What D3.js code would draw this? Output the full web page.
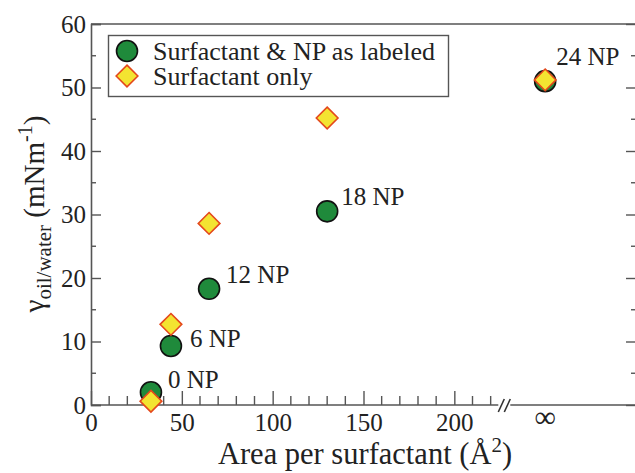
<!DOCTYPE html>
<html>
<head>
<meta charset="utf-8">
<script src="https://cdn.jsdelivr.net/npm/d3@7"></script>
<style>
  html, body { margin: 0; padding: 0; background: #fff; }
  svg { display: block; }
  svg text { font-family: "Liberation Serif", "DejaVu Serif", serif; fill: #222; }
</style>
</head>
<body>
<div id="chart"></div>
<script>
// ---------------- data ----------------
// x = area per surfactant (Å^2); Infinity = no surfactant limit (plotted at "∞")
const npLabels      = ["0 NP", "6 NP", "12 NP", "18 NP", "24 NP"];
const areaWithNP    = [33, 44, 65, 130, Infinity];
const gammaWithNP   = [2.0, 9.3, 18.3, 30.5, 51.0];
const areaSurfOnly  = [33, 44, 65, 130, Infinity];
const gammaSurfOnly = [0.6, 12.7, 28.6, 45.2, 51.2];
const xMajorTicks   = [0, 50, 100, 150, 200];
const yMajorTicks   = [0, 10, 20, 30, 40, 50, 60];
const legendLabels  = ["Surfactant & NP as labeled", "Surfactant only"];

// ---------------- layout ----------------
const W = 635, H = 473;
const FONT = '"Liberation Serif", "DejaVu Serif", serif';
const INF_POS = 250;      // axis value where "∞" is placed
const BREAK_POS = 227.5;  // axis value of the "//" break
const x = d3.scaleLinear().domain([0, 300]).range([91, 636]);
const y = d3.scaleLinear().domain([0, 60]).range([405, 24]);
const xp = v => x(v === Infinity ? INF_POS : v);

const svg = d3.select("#chart").append("svg").attr("width", W).attr("height", H)
  .attr("font-family", FONT);
const axisColor = "#555";
const green = "#1f8a3b", yellow = "#f3e431", orange = "#e4481c";

// frame: top and right lines
svg.append("line").attr("x1", x(0)).attr("x2", x(300)).attr("y1", y(60)).attr("y2", y(60))
  .attr("stroke", axisColor).attr("stroke-width", 1.6);
svg.append("line").attr("x1", x(300)).attr("x2", x(300)).attr("y1", y(0)).attr("y2", y(60))
  .attr("stroke", axisColor).attr("stroke-width", 1.6);

// left axis
const yMinor = d3.range(5, 60, 10);
const gy = svg.append("g").attr("transform", `translate(${x(0)},0)`)
  .call(d3.axisLeft(y).tickValues(yMajorTicks).tickSize(-10).tickPadding(5).tickFormat(d3.format("d")))
  .attr("font-family", FONT).attr("font-size", 25);
gy.select(".domain").attr("stroke", axisColor).attr("stroke-width", 1.6);
gy.selectAll(".tick line").attr("stroke", axisColor).attr("stroke-width", 1.4);
gy.selectAll(".tick text").attr("fill", "#222");
gy.selectAll(".minor").data(yMinor).enter().append("line")
  .attr("x1", 0).attr("x2", 5).attr("y1", d => y(d)).attr("y2", d => y(d))
  .attr("stroke", axisColor).attr("stroke-width", 1.4);

// right axis ticks (inward)
const gr = svg.append("g").attr("transform", `translate(${x(300)},0)`)
  .call(d3.axisRight(y).tickValues(yMajorTicks).tickSize(-10).tickFormat(""));
gr.select(".domain").remove();
gr.selectAll(".tick line").attr("stroke", axisColor).attr("stroke-width", 1.4);
gr.selectAll(".minor").data(yMinor).enter().append("line")
  .attr("x1", 0).attr("x2", -5).attr("y1", d => y(d)).attr("y2", d => y(d))
  .attr("stroke", axisColor).attr("stroke-width", 1.4);

// bottom axis
const gx = svg.append("g").attr("transform", `translate(0,${y(0)})`)
  .call(d3.axisBottom(x).tickValues(xMajorTicks).tickSize(-14).tickPadding(8).tickFormat(d3.format("d")))
  .attr("font-family", FONT).attr("font-size", 25);
gx.select(".domain").remove();
gx.selectAll(".tick line").attr("stroke", axisColor).attr("stroke-width", 1.4);
gx.selectAll(".tick text").attr("fill", "#222");
const xMinor = d3.range(10, 230, 10).filter(d => d % 50 !== 0);
gx.selectAll(".minor").data(xMinor).enter().append("line")
  .attr("x1", d => x(d)).attr("x2", d => x(d)).attr("y1", 0).attr("y2", -9)
  .attr("stroke", axisColor).attr("stroke-width", 1.4);
// axis baseline with a break
gx.append("line").attr("x1", x(0)).attr("x2", x(BREAK_POS) - 6).attr("y1", 0).attr("y2", 0)
  .attr("stroke", axisColor).attr("stroke-width", 1.6);
gx.append("line").attr("x1", x(BREAK_POS) + 6).attr("x2", x(300)).attr("y1", 0).attr("y2", 0)
  .attr("stroke", axisColor).attr("stroke-width", 1.6);
[-3, 3].forEach(o => {
  gx.append("line").attr("x1", x(BREAK_POS) + o - 3).attr("x2", x(BREAK_POS) + o + 3)
    .attr("y1", 7).attr("y2", -6).attr("stroke", "#333").attr("stroke-width", 1.6);
});
gx.append("text").attr("x", x(INF_POS)).attr("y", 22).attr("text-anchor", "middle")
  .attr("font-size", 30).text("∞");

// axis titles
const xt = svg.append("text").attr("x", 365).attr("y", 464).attr("text-anchor", "middle").attr("font-size", 30.5);
xt.append("tspan").text("Area per surfactant (Å");
xt.append("tspan").attr("dy", -12).attr("font-size", 21).text("2");
xt.append("tspan").attr("dy", 12).text(")");

const yt = svg.append("text").attr("transform", "translate(44,214) rotate(-90)")
  .attr("text-anchor", "middle").attr("font-size", 29);
yt.append("tspan").text("γ");
yt.append("tspan").attr("dy", 7).attr("font-size", 21).text("oil/water");
yt.append("tspan").attr("dy", -7).text(" (mNm");
yt.append("tspan").attr("dy", -12).attr("font-size", 20).text("-1");
yt.append("tspan").attr("dy", 12).text(")");

// data
const withNP = areaWithNP.map((a, i) => ({ a, g: gammaWithNP[i], label: npLabels[i] }));
const surfOnly = areaSurfOnly.map((a, i) => ({ a, g: gammaSurfOnly[i] }));

svg.append("g").selectAll("circle").data(withNP).enter().append("circle")
  .attr("cx", d => xp(d.a)).attr("cy", d => y(d.g)).attr("r", 10.5)
  .attr("fill", green).attr("stroke", "#111").attr("stroke-width", 1.6);

const diamond = d3.symbol().type(d3.symbolDiamond2).size(300);
svg.append("g").selectAll("path").data(surfOnly).enter().append("path")
  .attr("d", diamond)
  .attr("transform", d => `translate(${xp(d.a)},${y(d.g)})`)
  .attr("fill", yellow).attr("stroke", orange).attr("stroke-width", 1.6);

// NP labels (offsets from their point)
const labelOffsets = [[17, -4], [19, 1], [17, -6], [14, -6], [11, -16]];
svg.append("g").selectAll("text").data(withNP).enter().append("text")
  .attr("x", (d, i) => xp(d.a) + labelOffsets[i][0])
  .attr("y", (d, i) => y(d.g) + labelOffsets[i][1])
  .attr("font-size", 25).text(d => d.label);

// legend
const lg = svg.append("g");
lg.append("rect").attr("x", 108.5).attr("y", 35.5).attr("width", 340).attr("height", 61)
  .attr("fill", "#fff").attr("stroke", axisColor).attr("stroke-width", 1.4);
lg.append("circle").attr("cx", 127).attr("cy", 51).attr("r", 10.5)
  .attr("fill", green).attr("stroke", "#111").attr("stroke-width", 1.6);
lg.append("path").attr("d", diamond).attr("transform", "translate(127,76)")
  .attr("fill", yellow).attr("stroke", orange).attr("stroke-width", 1.6);
lg.append("text").attr("x", 153).attr("y", 60).attr("font-size", 26).text(legendLabels[0]);
lg.append("text").attr("x", 153).attr("y", 85).attr("font-size", 26).text(legendLabels[1]);
</script>
</body>
</html>
